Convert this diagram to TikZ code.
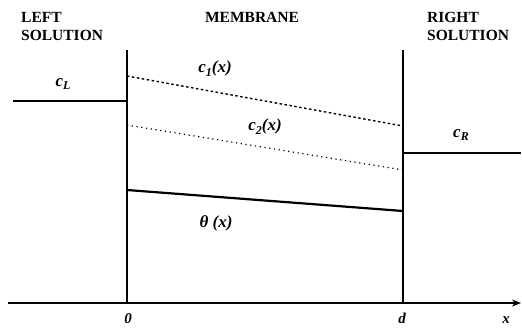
\documentclass[tikz,border=0pt]{standalone}
\usepackage{fontspec}
\setmainfont{Liberation Serif}
\usetikzlibrary{arrows.meta}
\newcommand\lsub[1]{\raisebox{-0.5ex}{\fontsize{12}{12}\selectfont #1}}
\tikzset{
  head/.style={font=\fontsize{15.5}{18.5}\selectfont\bfseries, align=left, inner sep=0pt},
  lab/.style={font=\fontsize{17}{19}\selectfont\bfseries\itshape, inner sep=0pt},
  axlab/.style={font=\fontsize{15}{15}\selectfont\bfseries\itshape, inner sep=0pt, anchor=base},
  wall/.style={line width=1.6pt},
  heavy/.style={line width=2.2pt},
}
\begin{document}
\begin{tikzpicture}[x=1pt,y=-1pt]
\useasboundingbox (0,0) rectangle (522,327);
% coordinates
\coordinate (ax0) at (8,303);
\coordinate (ax1) at (521,303);
\coordinate (w0t) at (127,50);
\coordinate (w0b) at (127,303);
\coordinate (w1t) at (403,50);
\coordinate (w1b) at (403,303);
\coordinate (cl0) at (13,101);
\coordinate (cl1) at (127,101);
\coordinate (cr0) at (403,153);
\coordinate (cr1) at (521,153);
\coordinate (c1a) at (127,76);
\coordinate (c1b) at (403,126);
\coordinate (c2a) at (127,125);
\coordinate (c2b) at (403,170);
\coordinate (tha) at (127,190);
\coordinate (thb) at (403,211);
% lines
\draw[heavy,-{Stealth[length=9pt,width=7pt]}] (ax0) -- (ax1);
\draw[wall] (w0t) -- (w0b);
\draw[wall] (w1t) -- (w1b);
\draw[heavy] (cl0) -- (cl1);
\draw[heavy] (cr0) -- (cr1);
\draw[line width=1.4pt, dash pattern=on 2.5pt off 2.5pt] (c1a) -- (c1b);
\draw[line width=1.2pt, dash pattern=on 1.2pt off 3.6pt] (c2a) -- (c2b);
\draw[heavy] (tha) -- (thb);
% headers
\node[head, anchor=north west] (lefth) at (21,12) {LEFT\\SOLUTION};
\node[head, anchor=north] (memh) at (252,12) {MEMBRANE};
\node[head, anchor=north west] (righth) at (427,12) {RIGHT\\SOLUTION};
% labels
\node[lab] (lcl) at (63,84) {c\lsub{L}};
\node[lab] (lc1) at (215,69) {c\lsub{1}(x)};
\node[lab] (lc2) at (265,127) {c\lsub{2}(x)};
\node[lab] (lcr) at (461,135) {c\lsub{R}};
\node[lab] (lth) at (216,223) {θ (x)};
\node[axlab] (l0) at (128,323) {0};
\node[axlab] (ld) at (402,323) {d};
\node[axlab] (lx) at (506,323) {x};
\end{tikzpicture}
\end{document}
